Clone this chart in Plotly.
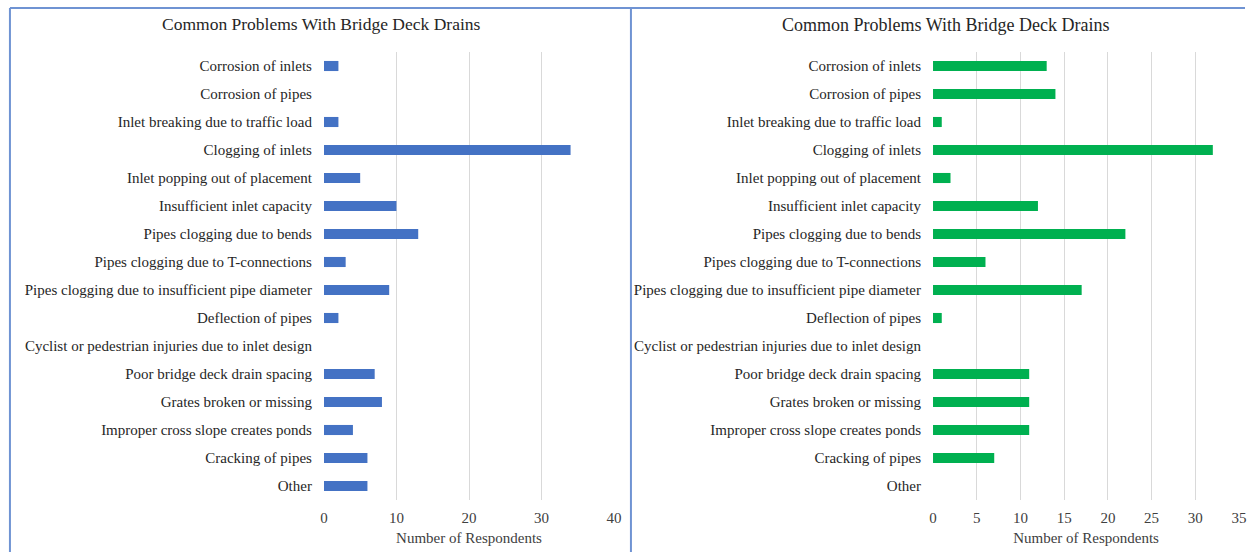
import plotly.graph_objects as go

# Survey categories, listed top to bottom
problems = [
    "Corrosion of inlets",
    "Corrosion of pipes",
    "Inlet breaking due to traffic load",
    "Clogging of inlets",
    "Inlet popping out of placement",
    "Insufficient inlet capacity",
    "Pipes clogging due to bends",
    "Pipes clogging due to T-connections",
    "Pipes clogging due to insufficient pipe diameter",
    "Deflection of pipes",
    "Cyclist or pedestrian injuries due to inlet design",
    "Poor bridge deck drain spacing",
    "Grates broken or missing",
    "Improper cross slope creates ponds",
    "Cracking of pipes",
    "Other",
]

# Number of respondents per problem
left_counts = [2, 0, 2, 34, 5, 10, 13, 3, 9, 2, 0, 7, 8, 4, 6, 6]
right_counts = [13, 14, 1, 32, 2, 12, 22, 6, 17, 1, 0, 11, 11, 11, 7, 0]

left_ticks = [0, 10, 20, 30, 40]
right_ticks = [0, 5, 10, 15, 20, 25, 30, 35]

chart_title = "Common Problems With Bridge Deck Drains"
axis_title = "Number of Respondents"

W, H = 1253, 552
FONT = "Liberation Serif, Times New Roman, serif"
GRID = "#D9D9D9"
FRAME = "#6F93D3"


def px(x):
    return x / W


def py(y):
    return 1 - y / H


fig = go.Figure()

fig.add_trace(go.Bar(
    x=left_counts, y=problems, orientation="h",
    marker=dict(color="#4472C4", line=dict(width=0)), xaxis="x", yaxis="y",
    hoverinfo="x+y", showlegend=False,
))
fig.add_trace(go.Bar(
    x=right_counts, y=problems, orientation="h",
    marker=dict(color="#00B050", line=dict(width=0)), xaxis="x2", yaxis="y2",
    hoverinfo="x+y", showlegend=False,
))

common_x = dict(
    showgrid=True, gridcolor=GRID, gridwidth=1,
    zeroline=False, showline=False, ticks="",
    tickfont=dict(family=FONT, size=15, color="#404040"),
    ticklabelstandoff=7,
    title=dict(text=axis_title, font=dict(family=FONT, size=15, color="#404040"), standoff=7),
    fixedrange=True,
)
common_y = dict(
    type="category", autorange="reversed",
    showgrid=False, zeroline=False, showline=False, ticks="",
    tickfont=dict(family=FONT, size=15, color="#262626"),
    ticklabelstandoff=11,
    domain=[py(500), py(52)],
    fixedrange=True,
)

fig.update_layout(
    width=W, height=H,
    margin=dict(l=0, r=0, t=0, b=0),
    paper_bgcolor="white", plot_bgcolor="white",
    bargap=0.64,
    xaxis=dict(common_x, domain=[px(323), px(616)], range=[0, 40],
               tickvals=left_ticks, anchor="y"),
    yaxis=dict(common_y, anchor="x"),
    xaxis2=dict(common_x, domain=[px(938), px(1247)], range=[0, 35],
                tickvals=right_ticks, anchor="y2"),
    yaxis2=dict(common_y, anchor="x2"),
    annotations=[
        dict(text=chart_title, xref="paper", yref="paper",
             x=px(321), y=py(24), xanchor="center", yanchor="middle",
             showarrow=False, font=dict(family=FONT, size=17.5, color="#262626")),
        dict(text=chart_title, xref="paper", yref="paper",
             x=px(951), y=py(25), xanchor="center", yanchor="middle",
             showarrow=False, font=dict(family=FONT, size=18, color="#262626")),
    ],
    shapes=[
        dict(type="line", xref="paper", yref="paper",
             x0=px(6), x1=1, y0=py(8), y1=py(8),
             line=dict(color=FRAME, width=2)),
        dict(type="line", xref="paper", yref="paper",
             x0=px(6), x1=px(6), y0=py(8), y1=0,
             line=dict(color=FRAME, width=2)),
        dict(type="line", xref="paper", yref="paper",
             x0=px(633), x1=px(633), y0=py(8), y1=0,
             line=dict(color=FRAME, width=2)),
    ],
)

fig.write_html("out.html")
